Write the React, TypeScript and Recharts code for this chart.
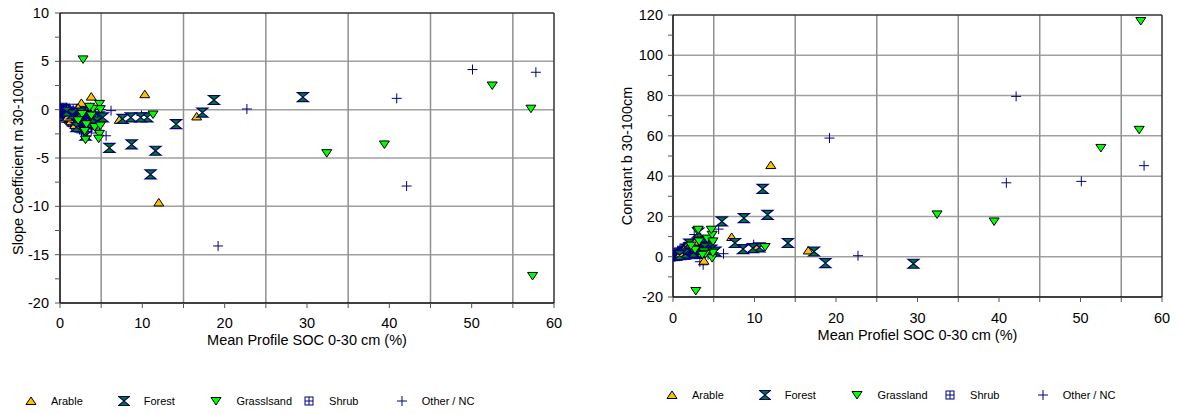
import { ScatterChart, Scatter, XAxis, YAxis, ReferenceLine } from 'recharts';

// SOC 0-30 cm (x), slope m and constant b (30-100 cm) per land use class
const arableSoc = [12.0, 10.3, 16.6, 7.2, 3.8, 2.6, 1.8, 1.3, 2.2, 0.9];
const arableSlope = [-9.6, 1.6, -0.7, -1.05, 1.35, 0.7, -1.6, -1.2, 0.2, -0.8];
const arableConst = [45.5, 4.6, 3.1, 9.8, -2.0, 7.5, 6.0, 3.5, 7.0, 1.5];

const forestSoc = [29.5, 18.7, 17.3, 14.1, 11.6, 11.0, 10.6, 9.8, 8.7, 8.6, 7.6, 6.0, 3.1, 4.7, 4.5, 2.5, 1.5, 3.9, 2.0, 0.8, 5.2];
const forestSlope = [1.3, 1.0, -0.3, -1.5, -4.25, -6.7, -0.8, -0.8, -3.6, -0.8, -0.95, -3.95, -2.7, -0.7, -1.2, -0.3, -0.5, -0.9, -1.8, -0.2, -0.8];
const forestConst = [-3.5, -3.2, 2.6, 6.8, 20.8, 33.7, 4.6, 4.3, 19.2, 3.8, 6.8, 17.5, 12.0, 3.5, 5.0, 2.0, 1.5, 4.5, 6.5, 0.8, 2.5];

const grassSoc = [2.8, 32.4, 39.4, 52.5, 57.2, 57.4, 11.3, 4.8, 4.9, 2.7, 3.8, 3.2, 4.2, 3.0, 4.8, 4.7, 3.1, 2.2, 4.0, 4.9, 3.6];
const grassSlope = [5.2, -4.5, -3.6, 2.5, 0.1, -17.2, -0.5, 0.6, 0.05, -0.45, -0.6, -1.5, -1.8, -2.2, -2.5, -3.0, -3.1, -1.1, 0.1, -1.65, 0.3];
const grassConst = [-17, 21, 17.5, 54, 63, 117, 4.8, -0.7, 2.0, 3.5, 2.6, 7.6, 9.0, 12.9, 10.9, 13.4, 13.4, 5.5, 1.5, 7.6, 1.0];

const shrubSoc = [0.1, 0.2, 0.35, 0.4, 0.55, 0.6, 0.75, 0.8, 0.95, 1.0, 1.1, 1.25, 1.3, 1.45, 1.5, 1.6, 1.7, 1.85, 1.9, 2.0, 2.15, 2.2, 2.3, 2.45, 2.5, 2.65, 2.7, 2.85, 2.9, 3.0, 3.2, 3.4, 3.5, 3.7, 4.0, 4.3,
  0.15, 0.3, 0.45, 0.65, 0.7, 0.9, 1.05, 1.2, 1.35, 1.55, 1.65, 1.75, 1.95, 2.05, 2.35, 2.55, 2.75, 3.1, 3.3, 3.6];
const shrubSlope = [0.0, -0.2, 0.25, -0.45, 0.1, -0.3, -0.65, 0.0, -0.85, -0.2, -0.7, -1.15, -0.4, -0.95, -1.35, 0.15, -0.6, -1.05, -1.7, -0.3, -0.85, -1.45, -1.9, 0.1, -0.6, -1.15, -1.6, -2.1, -0.35, -0.9, -1.4, -1.85, -0.5, -1.2, -1.55, -2.0,
  -0.35, -0.1, -0.7, 0.15, -0.9, -0.45, -1.0, -0.6, -1.3, -0.15, -1.1, -1.5, -0.5, -1.25, -0.7, -1.8, -0.9, -0.2, -2.3, -0.8];
const shrubConst = [0.0, 0.3, 0.6, 0.8, 0.2, 1.0, 1.6, 0.6, 2.1, 1.2, 2.5, 3.1, 1.5, 2.8, 4.1, 0.8, 2.2, 3.6, 5.2, 2.0, 3.0, 4.6, 6.1, 1.0, 2.5, 4.0, 5.6, 7.2, 1.5, 3.5, 5.1, 6.6, 2.0, 4.0, 5.5, 8.2,
  0.9, 0.1, 1.9, 0.4, 2.4, 1.3, 3.2, 2.0, 4.3, 0.7, 3.8, 5.0, 2.3, 4.4, 2.8, 6.4, 3.3, 1.1, 8.6, 3.0];

const otherSoc = [50.1, 57.8, 40.9, 42.1, 19.2, 22.7, 6.2, 5.6, 9.9, 3.7, 3.3, 4.3, 5.0, 0.2, 0.3, 0.5, 0.6, 0.8, 1.0, 1.2, 1.4, 1.5, 1.8, 2.1, 2.4, 2.8, 2.6, 3.4,
  0.4, 0.7, 0.9, 1.1, 1.3, 1.6, 1.9, 2.2, 2.5, 3.0, 3.9, 4.6];
const otherSlope = [4.15, 3.87, 1.17, -7.9, -14.1, 0.07, -0.1, -2.7, -0.6, 0.2, -0.2, -0.4, 0.0, -0.1, 0.1, -0.2, -0.6, 0.2, -0.4, -0.1, -1.1, -0.7, -0.3, -1.0, -0.5, -1.3, -2.4, -2.0,
  -0.4, -0.3, -0.7, 0.1, -0.9, -0.5, -1.3, -0.2, -1.7, -0.6, -0.3, -0.9];
const otherConst = [37.4, 45.2, 36.7, 79.6, 58.9, 0.5, 1.5, 13.7, 6.0, -4.0, -2.5, 1.0, 2.0, 0.0, 0.2, 0.5, 1.8, 0.3, 1.2, 0.8, 3.5, 2.0, 1.5, 3.0, 2.5, 4.0, 11.0, 9.5,
  1.1, 0.9, 2.2, 0.5, 2.9, 1.7, 4.6, 1.0, 5.9, 2.6, 1.4, 3.6];

const xTicks = [0, 5, 10, 15, 20, 25, 30, 35, 40, 45, 50, 55, 60];
const xGrid = [5, 15, 25, 35, 45, 55];
const slopeTicks = [10, 7.5, 5, 2.5, 0, -2.5, -5, -7.5, -10, -12.5, -15, -17.5, -20];
const slopeGrid = [5, 0, -5, -10, -15];
const constTicks = [120, 110, 100, 90, 80, 70, 60, 50, 40, 30, 20, 10, 0, -10, -20];
const constGrid = [100, 80, 60, 40, 20, 0];

const FONT = '"Liberation Sans", Arial, sans-serif';
const NAVY = '#000080';

const ArableMark = ({ cx, cy }: any) => (
  <path d={`M${cx - 5},${cy + 3.5}L${cx + 5},${cy + 3.5}L${cx},${cy - 4}Z`} fill="#FFC000" stroke="#000" strokeWidth={1} />
);
const ForestMark = ({ cx, cy }: any) => (
  <path d={`M${cx - 5.5},${cy - 4.5}L${cx + 5.5},${cy - 4.5}L${cx - 5.5},${cy + 4.5}L${cx + 5.5},${cy + 4.5}Z`} fill="#008000" stroke={NAVY} strokeWidth={1.2} />
);
const GrassMark = ({ cx, cy }: any) => (
  <path d={`M${cx - 5},${cy - 3.5}L${cx + 5},${cy - 3.5}L${cx},${cy + 4}Z`} fill="#00FF00" stroke="#000" strokeWidth={1} />
);
const ShrubMark = ({ cx, cy }: any) => (
  <g stroke={NAVY} strokeWidth={1}>
    <rect x={cx - 4} y={cy - 4} width={8} height={8} fill="none" />
    <line x1={cx - 4} y1={cy} x2={cx + 4} y2={cy} />
    <line x1={cx} y1={cy - 4} x2={cx} y2={cy + 4} />
  </g>
);
const OtherMark = ({ cx, cy }: any) => (
  <g stroke={NAVY} strokeWidth={1}>
    <line x1={cx - 5} y1={cy} x2={cx + 5} y2={cy} />
    <line x1={cx} y1={cy - 5} x2={cx} y2={cy + 5} />
  </g>
);

const classes = [
  { key: 'shrub', soc: shrubSoc, slope: shrubSlope, constant: shrubConst, Mark: ShrubMark },
  { key: 'other', soc: otherSoc, slope: otherSlope, constant: otherConst, Mark: OtherMark },
  { key: 'arable', soc: arableSoc, slope: arableSlope, constant: arableConst, Mark: ArableMark },
  { key: 'forest', soc: forestSoc, slope: forestSlope, constant: forestConst, Mark: ForestMark },
  { key: 'grass', soc: grassSoc, slope: grassSlope, constant: grassConst, Mark: GrassMark },
];

const legendMarks = [ArableMark, ForestMark, GrassMark, ShrubMark, OtherMark];

function Legend({ names, left, top }: { names: string[]; left: number; top: number }) {
  return (
    <div style={{ position: 'absolute', left, top, fontFamily: FONT, fontSize: 11, color: '#000' }}>
      {names.map((n, i) => {
        const M = legendMarks[i];
        return (
          <div key={n} style={{ position: 'absolute', left: i * 92.7, top: 0, display: 'flex', alignItems: 'center', whiteSpace: 'nowrap' }}>
            <svg width={12} height={12} style={{ marginLeft: -6 }}>
              <M cx={6} cy={6} />
            </svg>
            <span style={{ marginLeft: 14 }}>{n}</span>
          </div>
        );
      })}
    </div>
  );
}

function Panel(props: any) {
  const { left, width, top, bottomY, right, field, domain, yTicks, yEvery, yGrid, yWidth, yTitle, xTitle, yTitleX, xTitleOff, yMargin, xMargin } = props;
  const tickStyle = { fill: '#000', fontSize: 14.5, fontFamily: FONT };
  return (
    <div style={{ position: 'absolute', left, top: 0 }}>
      <ScatterChart width={width} height={414} margin={{ top, right, left: 0, bottom: 414 - bottomY - 40 }}>
        <XAxis
          type="number"
          dataKey="x"
          domain={[0, 60]}
          ticks={xTicks}
          interval={0}
          tickSize={5}
          tickMargin={xMargin}
          height={40}
          tick={tickStyle}
          tickFormatter={(v: number) => (v % 10 === 0 ? String(v) : '')}
          axisLine={{ stroke: '#000', strokeWidth: 1.5 }}
          tickLine={{ stroke: '#555' }}
          allowDataOverflow
          label={{ value: xTitle, position: 'insideBottom', offset: xTitleOff, style: { fill: '#000', fontSize: 14.5, fontFamily: FONT } }}
        />
        <YAxis
          type="number"
          dataKey="y"
          domain={domain}
          ticks={yTicks}
          interval={0}
          tickSize={5}
          tickMargin={yMargin}
          width={yWidth}
          tick={tickStyle}
          tickFormatter={(v: number) => (v % yEvery === 0 ? String(v) : '')}
          axisLine={{ stroke: '#000', strokeWidth: 1.5 }}
          tickLine={{ stroke: '#555' }}
          allowDataOverflow
          label={{ value: yTitle, angle: -90, position: 'insideLeft', offset: yTitleX, style: { fill: '#000', fontSize: 14.5, fontFamily: FONT, textAnchor: 'middle' } }}
        />
        {yGrid.map((v: number) => (
          <ReferenceLine key={'h' + v} y={v} stroke="#a0a0a0" strokeWidth={1.5} />
        ))}
        {xGrid.map((v) => (
          <ReferenceLine key={'v' + v} x={v} stroke="#909090" strokeWidth={1.5} />
        ))}
        <ReferenceLine y={domain[1]} stroke="#333" strokeWidth={1.5} />
        <ReferenceLine x={60} stroke="#333" strokeWidth={1.5} />
        {classes.map((c) => (
          <Scatter
            key={c.key}
            data={c.soc.map((x, i) => ({ x, y: field === 'slope' ? c.slope[i] : c.constant[i] }))}
            shape={(p: any) => <c.Mark cx={p.cx} cy={p.cy} />}
            isAnimationActive={false}
          />
        ))}
      </ScatterChart>
    </div>
  );
}

export default function App() {
  return (
    <div style={{ position: 'absolute', left: 0, top: 0, width: 1178, height: 414, background: '#fff', overflow: 'hidden' }}>
      <Panel
        left={0}
        width={580}
        top={13}
        bottomY={303}
        right={26}
        field="slope"
        domain={[-20, 10]}
        yTicks={slopeTicks}
        yEvery={5}
        yGrid={slopeGrid}
        yWidth={60}
        yMargin={6}
        xMargin={10}
        yTitle="Slope Coefficient m 30-100cm"
        yTitleX={18}
        xTitle="Mean Profile SOC 0-30 cm (%)"
        xTitleOff={-2}
      />
      <Panel
        left={600}
        width={578}
        top={15}
        bottomY={297}
        right={16}
        field="constant"
        domain={[-20, 120]}
        yTicks={constTicks}
        yEvery={20}
        yGrid={constGrid}
        yWidth={73}
        yMargin={5}
        xMargin={11}
        yTitle="Constant b 30-100cm"
        yTitleX={27}
        xTitle="Mean Profiel SOC 0-30 cm (%)"
        xTitleOff={-3}
      />
      <Legend names={['Arable', 'Forest', 'Grasslsand', 'Shrub', 'Other / NC']} left={31} top={395} />
      <Legend names={['Arable', 'Forest', 'Grassland', 'Shrub', 'Other / NC']} left={672} top={389} />
    </div>
  );
}
